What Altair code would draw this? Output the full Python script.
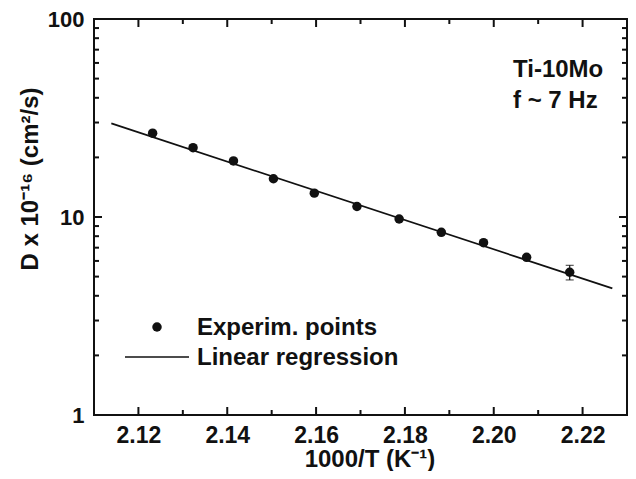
import altair as alt
import pandas as pd

# ---- data ----
inv_T = [2.1232, 2.1323, 2.1414, 2.1504, 2.1596, 2.1692, 2.1787, 2.1882, 2.1977, 2.2074, 2.2171]
D = [26.5, 22.4, 19.2, 15.6, 13.2, 11.3, 9.77, 8.37, 7.42, 6.26, 5.26]
err_x = [2.2171]
err_lo = [4.81]
err_hi = [5.70]
fit_x = [2.1139, 2.2267]
fit_D = [29.7, 4.36]
x_labels = [2.12, 2.14, 2.16, 2.18, 2.20, 2.22]
x_minor = [2.13, 2.15, 2.17, 2.19, 2.21]
y_labels = [1, 10, 100]
y_major_inner = [10]
y_minor = [2, 3, 4, 5, 6, 7, 8, 9, 20, 30, 40, 50, 60, 70, 80, 90]

W, H = 533, 396
FONT = "Liberation Sans"
INK = "#111111"
FS = 24

xs = alt.Scale(domain=[2.11, 2.23], nice=False, zero=False)
ys = alt.Scale(type="log", domain=[1, 100], nice=False)

x_axis = alt.Axis(values=x_labels, format=".2f", ticks=False, domain=False, grid=False,
                  labelPadding=9, labelFontSize=23, labelFont=FONT, labelFontWeight="bold",
                  labelColor=INK, labelFlush=False, title=None)
y_axis = alt.Axis(values=y_labels, format="d", ticks=False, domain=False, grid=False,
                  labelPadding=10, labelFontSize=22, labelFont=FONT, labelFontWeight="bold",
                  labelColor=INK, labelFlush=False, title=None)


def X(f="x"):
    return alt.X(f"{f}:Q", scale=xs, axis=x_axis)


def Y(f="D"):
    return alt.Y(f"{f}:Q", scale=ys, axis=y_axis)


pts_df = pd.DataFrame({"x": inv_T, "D": D})
fit_df = pd.DataFrame({"x": fit_x, "D": fit_D})
err_df = pd.DataFrame({"x": err_x, "lo": err_lo, "hi": err_hi})
cap_df = pd.DataFrame({"x": err_x * 2, "D": err_lo + err_hi})

fit = alt.Chart(fit_df).mark_line(color=INK, strokeWidth=1.7).encode(x=X(), y=Y())
points = alt.Chart(pts_df).mark_point(filled=True, size=90, color=INK, opacity=1).encode(x=X(), y=Y())
err = alt.Chart(err_df).mark_rule(color=INK, strokeWidth=1.2).encode(x=X(), y=Y("lo"), y2="hi:Q")
caps = alt.Chart(cap_df).mark_tick(color=INK, orient="horizontal", size=8, thickness=1.2).encode(x=X(), y=Y())

# inward ticks
xmaj_df = pd.DataFrame({"x": x_labels})
xmin_df = pd.DataFrame({"x": x_minor})
ymaj_df = pd.DataFrame({"D": y_major_inner})
ymin_df = pd.DataFrame({"D": y_minor})
tick_layers = []
for df, ln in [(xmaj_df, 8), (xmin_df, 5)]:
    tick_layers.append(alt.Chart(df).mark_rule(color=INK, strokeWidth=2).encode(
        x=X(), y=alt.value(H), y2=alt.value(H - ln)))
    tick_layers.append(alt.Chart(df).mark_rule(color=INK, strokeWidth=2).encode(
        x=X(), y=alt.value(0), y2=alt.value(ln)))
for df, ln in [(ymaj_df, 8), (ymin_df, 5)]:
    tick_layers.append(alt.Chart(df).mark_rule(color=INK, strokeWidth=2).encode(
        y=Y(), x=alt.value(0), x2=alt.value(ln)))
    tick_layers.append(alt.Chart(df).mark_rule(color=INK, strokeWidth=2).encode(
        y=Y(), x=alt.value(W), x2=alt.value(W - ln)))

one = pd.DataFrame({"k": [0]})


def label(txt, x, y, align="left", angle=0, fs=FS):
    return alt.Chart(one).mark_text(text=txt, align=align, baseline="alphabetic", angle=angle,
                                    font=FONT, fontSize=fs, fontWeight="bold", color=INK).encode(
        x=alt.value(x), y=alt.value(y))


annots = [
    label("Ti-10Mo", 419, 58),
    label("f ~ 7 Hz", 419, 89),
    label("Experim. points", 103, 316),
    label("Linear regression", 103, 346),
    label("1000/T (K\u207B\u00B9)", 276, 448, align="center"),
    label("D x 10\u207B\u00B9\u2076 (cm\u00B2/s)", -56, 160, align="center", angle=270),
    alt.Chart(one).mark_point(filled=True, size=90, color=INK, opacity=1).encode(
        x=alt.value(63), y=alt.value(308)),
    alt.Chart(one).mark_rule(color=INK, strokeWidth=1.6).encode(
        x=alt.value(31), x2=alt.value(95), y=alt.value(338)),
]

chart = alt.layer(fit, points, err, caps, *tick_layers, *annots).properties(
    width=W, height=H,
    autosize=alt.AutoSizeParams(type="none"),
    padding={"left": 86, "top": 11, "right": 1, "bottom": 56},
).configure_view(stroke=INK, strokeWidth=2)

chart.save("out.html", embed_options={"renderer": "svg", "actions": False})
